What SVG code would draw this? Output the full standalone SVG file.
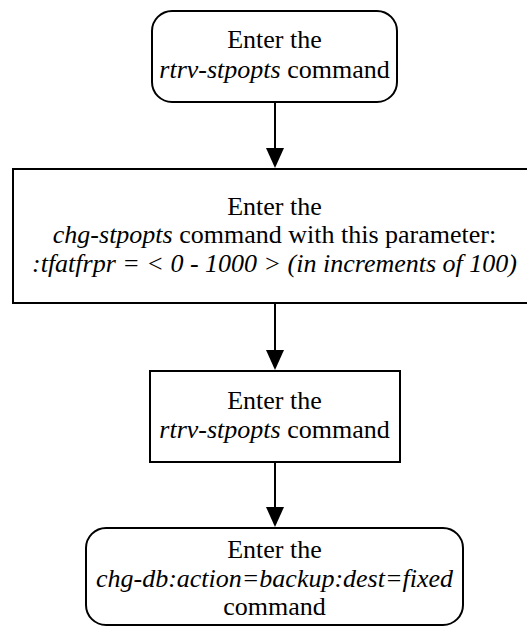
<svg xmlns="http://www.w3.org/2000/svg" width="527" height="627" viewBox="0 0 527 627">
<defs>
<style>
.box{fill:#fff;stroke:#000;stroke-width:2}
.t{font-family:"Liberation Serif","Times New Roman",serif;font-size:26px;fill:#000;text-anchor:middle}
.i{font-style:italic}
.c{stroke:#000;stroke-width:2;fill:none}
.ah{fill:#000}
</style>
</defs>
<rect width="527" height="627" fill="#fff"/>
<g id="connectors">
<line class="c" x1="275" y1="102" x2="275" y2="148"/>
<path class="ah" d="M266,148 L284,148 L275,168 Z"/>
<line class="c" x1="275" y1="303" x2="275" y2="350"/>
<path class="ah" d="M266,350 L284,350 L275,370 Z"/>
<line class="c" x1="275" y1="462" x2="275" y2="507"/>
<path class="ah" d="M266,507 L284,507 L275,527 Z"/>
</g>
<g id="n1">
<rect class="box" x="152" y="11" width="245" height="91" rx="20"/>
<text class="t" x="274.5" y="48">Enter the</text>
<text class="t" x="274.5" y="78"><tspan class="i">rtrv-stpopts</tspan> command</text>
</g>
<g id="n2">
<rect class="box" x="13" y="169" width="523" height="134"/>
<text class="t" x="274.5" y="215">Enter the</text>
<text class="t" x="274.5" y="243"><tspan class="i">chg-stpopts</tspan> command with this parameter:</text>
<text class="t i" x="274.5" y="272">:tfatfrpr = &lt; 0 - 1000 &gt; (in increments of 100)</text>
</g>
<g id="n3">
<rect class="box" x="150" y="371" width="250" height="91"/>
<text class="t" x="274.5" y="409">Enter the</text>
<text class="t" x="274.5" y="438"><tspan class="i">rtrv-stpopts</tspan> command</text>
</g>
<g id="n4">
<rect class="box" x="86" y="528" width="377" height="97" rx="20"/>
<text class="t" x="274.5" y="558">Enter the</text>
<text class="t i" x="274.5" y="587">chg-db:action=backup:dest=fixed</text>
<text class="t" x="274.5" y="615">command</text>
</g>
</svg>
